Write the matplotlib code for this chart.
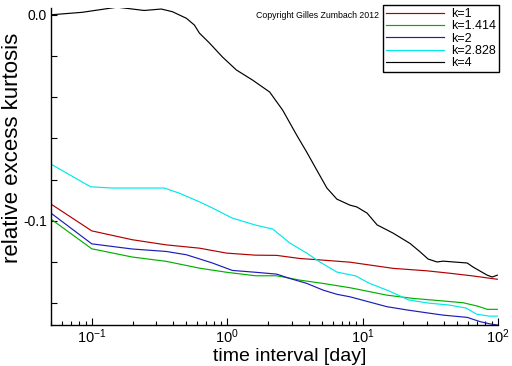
import numpy as np
import matplotlib.pyplot as plt
from matplotlib.ticker import FixedLocator, LogLocator, NullFormatter, FuncFormatter

plt.rcParams['font.family'] = ['Liberation Sans', 'DejaVu Sans']
plt.rcParams['mathtext.fontset'] = 'custom'
plt.rcParams['mathtext.rm'] = 'Liberation Sans'
plt.rcParams['mathtext.it'] = 'Liberation Sans'

# curves: (time interval [day], relative excess kurtosis)
x_k1 = [0.05, 0.1, 0.199, 0.355, 0.624, 0.99, 1.62, 2.32, 3.43, 5.08, 8.06, 16.8, 29.9, 44.4, 65.6, 98.9]
y_k1 = [-0.0919, -0.1049, -0.1092, -0.1117, -0.1133, -0.1157, -0.1167, -0.1168, -0.1183, -0.1191,
        -0.1201, -0.1231, -0.1243, -0.1255, -0.1268, -0.1284]

x_k1414 = [0.05, 0.1, 0.199, 0.355, 0.624, 0.99, 1.62, 2.32, 3.43, 5.08, 8.06, 15.1, 23.6, 37.4,
           55.3, 70.3, 83.4, 98.9]
y_k1414 = [-0.0992, -0.1136, -0.1176, -0.1197, -0.1230, -0.1250, -0.1267, -0.1267, -0.1288, -0.1304,
           -0.1325, -0.1361, -0.1377, -0.1388, -0.1398, -0.1414, -0.1430, -0.1430]

x_k2 = [0.05, 0.1, 0.199, 0.355, 0.50, 0.778, 1.09, 1.62, 2.32, 2.90, 3.87, 5.08, 6.46, 8.06, 9.55,
        15.1, 21.3, 29.9, 39.3, 59.2, 74.0, 87.7, 98.9]
y_k2 = [-0.0963, -0.1112, -0.1137, -0.1149, -0.1165, -0.1205, -0.1241, -0.1250, -0.1259, -0.1280,
        -0.1304, -0.1336, -0.1357, -0.1369, -0.1382, -0.1417, -0.1433, -0.1447, -0.1458, -0.1469,
        -0.1490, -0.1501, -0.1506]

x_k2828 = [0.05, 0.098, 0.141, 0.224, 0.343, 0.443, 0.624, 0.778, 1.09, 1.62, 2.17, 2.90, 3.87, 4.83,
           6.46, 8.92, 11.1, 15.7, 22.0, 31.0, 43.6, 58.3, 69.2, 86.3, 98.9]
y_k2828 = [-0.0725, -0.0835, -0.0841, -0.0841, -0.0841, -0.0866, -0.0908, -0.0938, -0.0987, -0.1021,
           -0.1040, -0.1108, -0.1157, -0.1200, -0.1249, -0.1268, -0.1302, -0.1341, -0.1385, -0.1400,
           -0.1409, -0.1424, -0.1453, -0.1463, -0.1463]

x_k4 = [0.05, 0.0848, 0.154, 0.244, 0.326, 0.394, 0.50, 0.573, 0.624, 0.74, 0.923, 1.17, 1.54, 2.06,
        2.57, 3.26, 3.87, 4.59, 5.45, 6.46, 8.06, 9.08, 10.8, 12.8, 16.8, 22.4, 26.5, 30.5, 35.5,
        39.3, 59.2, 65.6, 83.2, 90.7, 98.9]
y_k4 = [0.0, 0.0012, 0.0037, 0.0021, 0.0028, 0.0015, -0.0017, -0.0050, -0.0089, -0.0137, -0.0205,
        -0.0268, -0.0317, -0.0375, -0.0463, -0.0584, -0.0667, -0.0754, -0.0841, -0.0895, -0.0924,
        -0.0933, -0.0963, -0.1020, -0.1060, -0.1110, -0.1150, -0.1186, -0.1200, -0.1196, -0.1205,
        -0.1225, -0.1264, -0.1273, -0.1264]

labels = ['k=1', 'k=1.414', 'k=2', 'k=2.828', 'k=4']
colors = ['#b00000', '#00b000', '#1c1cb8', '#00e8e8', '#000000']

fig = plt.figure(figsize=(5.12, 3.66), dpi=100)
ax = fig.add_axes([51 / 512, 41 / 366, 447 / 512, 317 / 366])

series = [(x_k1, y_k1), (x_k1414, y_k1414), (x_k2, y_k2), (x_k2828, y_k2828), (x_k4, y_k4)]
for (xs, ys), lab, c in zip(series, labels, colors):
    ax.plot(xs, ys, color=c, lw=0.85, label=lab)

ax.set_xscale('log')
ax.set_xlim(0.05, 100)
ax.set_ylim(-0.1506, 0.0033)

ax.spines['top'].set_visible(False)
ax.spines['right'].set_visible(False)
for s in ('left', 'bottom'):
    ax.spines[s].set_linewidth(1.0)

ax.xaxis.set_major_locator(LogLocator(base=10, numticks=10))
ax.xaxis.set_minor_locator(LogLocator(base=10, subs=np.arange(2, 10), numticks=20))
ax.xaxis.set_minor_formatter(NullFormatter())
ax.xaxis.set_major_formatter(FuncFormatter(lambda v, p: r'$10^{%d}$' % round(np.log10(v))))

ax.yaxis.set_major_locator(FixedLocator([-0.1, 0.0]))
ax.yaxis.set_minor_locator(FixedLocator([-0.14, -0.12, -0.08, -0.06, -0.04, -0.02]))
ax.yaxis.set_major_formatter(FuncFormatter(lambda v, p: '%.1f' % v))

ax.tick_params(axis='x', which='major', direction='in', length=5, width=0.8, pad=1.5, labelsize=10.5)
ax.tick_params(axis='x', which='minor', direction='in', length=3, width=0.8)
ax.tick_params(axis='y', which='both', direction='in', length=4, width=0.8, pad=3, labelsize=10)

# axis titles placed like in the original
fig.text(289.5 / 512, 1 - 356.5 / 366, 'time interval [day]', fontsize=14, ha='center', va='center')
fig.text(13 / 512, 1 - 148 / 366, 'relative excess kurtosis', fontsize=16, rotation=90,
         ha='center', va='center')

fig.text(256 / 512, 1 - 16 / 366, 'Copyright Gilles Zumbach 2012', fontsize=6.3, va='center', ha='left')

leg = ax.legend(loc='upper left', bbox_to_anchor=(383 / 512, 1 - 5 / 366), bbox_transform=fig.transFigure,
                fontsize=9, frameon=True, fancybox=False, framealpha=1, edgecolor='black',
                handlelength=4.6, handletextpad=0.6, labelspacing=0.02, borderpad=0.25,
                borderaxespad=0)
leg.get_frame().set_linewidth(1.0)

fig.savefig('out.png', dpi=100)
